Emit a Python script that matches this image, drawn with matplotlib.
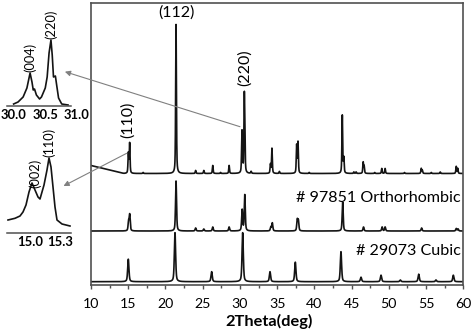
import numpy as np
import matplotlib
matplotlib.use("Agg")
import matplotlib.pyplot as plt
from matplotlib.patches import ConnectionPatch
from matplotlib.ticker import MultipleLocator

plt.rcParams['font.family'] = ['Lato', 'DejaVu Sans']

# ---------------- data ----------------
# Experimental pattern (top): peak positions (deg) and heights (a.u.)
exp_pos = [15.02, 15.19, 17.0, 21.42, 24.05, 25.15, 26.35, 27.4, 28.55,
           30.27, 30.34, 30.59, 30.66, 31.5, 34.1, 34.3, 35.3, 37.62, 37.8,
           39.3, 43.75, 43.95, 45.3, 45.6, 46.55, 46.68, 48.1, 49.05, 49.5,
           52.1, 54.35, 54.5, 55.7, 56.9, 59.05, 59.25]
exp_height = [20, 30, 1, 149, 3, 3, 8, 1, 8,
              38, 10, 72, 22, 2, 9, 25, 2, 28, 31,
              1, 58, 15, 1.5, 1.5, 11, 7, 1, 5, 5,
              1, 5, 3, 1, 1.5, 7, 5]
exp_baseline = 111.5
exp_bg_rise = 8.0       # extra background at 10 deg
exp_bg_end = 14.4       # deg where the background rise vanishes

# Simulated orthorhombic (# 97851)
ortho_pos = [15.05, 15.2, 21.42, 24.05, 25.15, 26.35, 28.55, 30.3, 30.65,
             34.15, 34.35, 37.7, 37.85, 43.8, 46.6, 49.1, 49.5, 54.4, 59.05, 59.3]
ortho_height = [9, 16, 50, 3, 2, 4, 4, 21, 36,
                4, 8, 11, 10, 29, 4, 4, 4, 3, 2.5, 2]
ortho_baseline = 54.0

# Simulated cubic (# 29073)
cubic_pos = [15.01, 21.28, 26.2, 30.37, 34.04, 37.44, 43.57, 46.26, 48.95,
             51.54, 54.01, 56.33, 58.66]
cubic_height = [22.5, 49, 10, 49, 10, 19.5, 30, 4.5, 6.5, 1.7, 7.5, 1.7, 6.5]
cubic_baseline = 3.3

inset1_x = [30.00, 30.07, 30.15, 30.21, 30.26, 30.29, 30.31, 30.33, 30.36,
            30.41, 30.44, 30.50, 30.53, 30.56, 30.59, 30.61, 30.63, 30.66,
            30.68, 30.71, 30.76, 30.86]
inset1_y = [2, 4, 9, 18, 33, 24, 16, 17, 11,
            7, 9, 18, 29, 53, 66, 51, 29, 30,
            21, 8, 2, 1]

inset2_x = [14.78, 14.85, 14.90, 14.93, 14.96, 14.99, 15.02, 15.05, 15.08,
            15.10, 15.12, 15.14, 15.17, 15.19, 15.21, 15.23, 15.25, 15.27,
            15.32, 15.40]
inset2_y = [13, 14.7, 17, 21, 28, 41, 50, 43, 36,
            34, 41, 48, 63, 75, 66, 46, 26, 13,
            9, 7]

x_ticks = [10, 15, 20, 25, 30, 35, 40, 45, 50, 55, 60]
inset1_ticks = [30.0, 30.5, 31.0]
inset1_ticklabels = ['30.0', '30.5', '31.0']
inset2_ticks = [15.0, 15.3]
inset2_ticklabels = ['15.0', '15.3']


def profile(x, pos, hts, fwhm, eta=0.5):
    y = np.zeros_like(x)
    for p, h in zip(pos, hts):
        d = (x - p) / (fwhm / 2.0)
        y += h * (eta / (1 + d ** 2) + (1 - eta) * np.exp(-np.log(2) * d ** 2))
    return y


x = np.arange(10.0, 60.001, 0.01)
y_exp = exp_baseline + exp_bg_rise * np.clip((exp_bg_end - x) / (exp_bg_end - 10), 0, 1) \
    + profile(x, exp_pos, exp_height, 0.12)
y_ortho = ortho_baseline + profile(x, ortho_pos, ortho_height, 0.16)
y_cubic = cubic_baseline + profile(x, cubic_pos, cubic_height, 0.2)

W, H = 474, 332
fig = plt.figure(figsize=(W / 100, H / 100), dpi=100)
fig.patch.set_facecolor('white')

line_c = '#141414'
spine_c = '#505050'
lw = 1.2

ax = fig.add_axes([91 / W, 47 / H, 372.3 / W, 282.3 / H])
ax.plot(x, y_exp, color=line_c, lw=lw)
ax.plot(x, y_ortho, color=line_c, lw=lw)
ax.plot(x, y_cubic, color=line_c, lw=lw)
ax.set_xlim(10, 60)
ax.set_ylim(0, 282.3)
ax.set_yticks([])
ax.set_xticks(x_ticks)
ax.xaxis.set_minor_locator(MultipleLocator(2.5))
ax.tick_params(axis='x', which='major', direction='out', length=3, width=1,
               color=spine_c, labelsize=10.2, pad=6)
ax.tick_params(axis='x', which='minor', direction='out', length=2.5, width=1,
               color=spine_c)
for s in ax.spines.values():
    s.set_color(spine_c)
    s.set_linewidth(1.2)
ax.set_xlabel('2Theta(deg)', fontsize=11.8, fontweight='bold')
ax.xaxis.set_label_coords(0.477, -0.1275)
ax.xaxis.label.set_va('center')

ax.text(21.42, 272.5, '(112)', ha='center', va='center', fontsize=11.5)
ax.text(14.97, 165, '(110)', ha='center', va='center', fontsize=11.5, rotation=90)
ax.text(30.6, 217, '(220)', ha='center', va='center', fontsize=11.5, rotation=90)
ax.text(59.65, 87.3, '# 97851 Orthorhombic', ha='right', va='center', fontsize=11.6)
ax.text(59.65, 34, '# 29073 Cubic', ha='right', va='center', fontsize=11.6)

# Inset 1
ax1 = fig.add_axes([7.3 / W, (H - 106) / H, 69.6 / W, 106 / H])
ax1.set_facecolor('none')
ax1.plot(inset1_x, inset1_y, color=line_c, lw=lw)
ax1.set_xlim(29.9, 31.0)
ax1.set_ylim(0, 106)
for k in ['left', 'right', 'top']:
    ax1.spines[k].set_visible(False)
ax1.spines['bottom'].set_bounds(29.9, 30.9)
ax1.spines['bottom'].set_color(spine_c)
ax1.spines['bottom'].set_linewidth(1.1)
ax1.set_yticks([])
ax1.set_xticks(inset1_ticks)
ax1.set_xticklabels(inset1_ticklabels, fontweight='bold')
ax1.tick_params(axis='x', length=0, labelsize=9.4, pad=2.5)
ax1.text(30.26, 48.5, '(004)', ha='center', va='center', fontsize=9.2, rotation=90)
ax1.text(30.585, 82, '(220)', ha='center', va='center', fontsize=9.2, rotation=90)

# Inset 2
ax2 = fig.add_axes([7.3 / W, (H - 233) / H, 63.4 / W, 113 / H])
ax2.set_facecolor('none')
ax2.plot(inset2_x, inset2_y, color=line_c, lw=lw)
ax2.set_xlim(14.773, 15.407)
ax2.set_ylim(0, 113)
for k in ['left', 'right', 'top']:
    ax2.spines[k].set_visible(False)
ax2.spines['bottom'].set_color(spine_c)
ax2.spines['bottom'].set_linewidth(1.1)
ax2.set_yticks([])
ax2.set_xticks(inset2_ticks)
ax2.set_xticklabels(inset2_ticklabels, fontweight='bold')
ax2.tick_params(axis='x', length=0, labelsize=9.4, pad=2.5)
ax2.text(15.05, 60, '(002)', ha='center', va='center', fontsize=9.2, rotation=90)
ax2.text(15.196, 90.5, '(110)', ha='center', va='center', fontsize=9.2, rotation=90)

# Arrows
arr_c = '#808080'
cp1 = ConnectionPatch(xyA=(30.01, 158.3), coordsA=ax.transData,
                      xyB=(30.81, 34.3), coordsB=ax1.transData,
                      arrowstyle='-|>', color=arr_c, lw=0.8, mutation_scale=8,
                      shrinkA=0, shrinkB=0)
cp2 = ConnectionPatch(xyA=(14.79, 131.7), coordsA=ax.transData,
                      xyB=(15.335, 47), coordsB=ax2.transData,
                      arrowstyle='-|>', color=arr_c, lw=0.8, mutation_scale=8,
                      shrinkA=0, shrinkB=0)
fig.add_artist(cp1)
fig.add_artist(cp2)

fig.savefig('out.png', dpi=100)
